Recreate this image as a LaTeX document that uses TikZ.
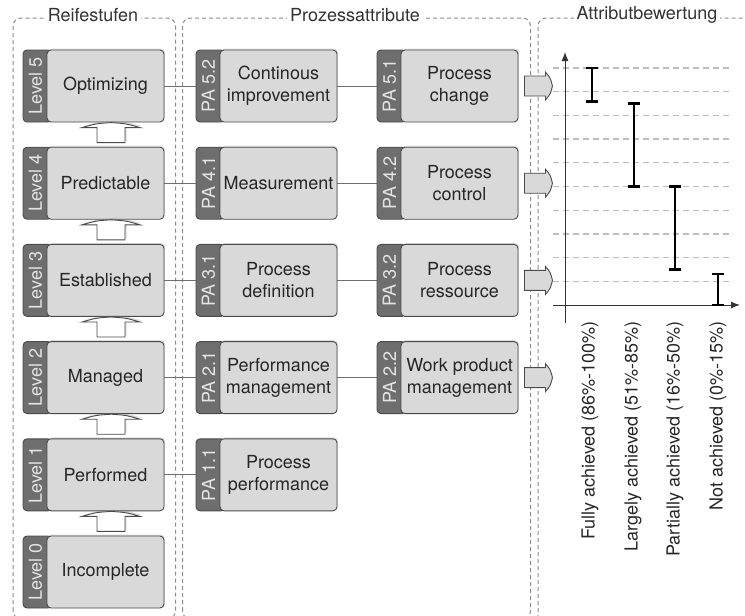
\documentclass[tikz,border=0pt]{standalone}
\usepackage{fontspec}
\setmainfont{TeX Gyre Heros}
\usepackage{graphicx}
\usepackage{tikz}
\usetikzlibrary{shapes, arrows.meta, shadows, calc, positioning}

\definecolor{hell}{HTML}{D9D9D9}
\definecolor{dunkel}{HTML}{6E6E6E}
\definecolor{rand}{HTML}{4A4A4A}
\definecolor{tabschrift}{HTML}{E4E4E4}
\definecolor{rahmengrau}{HTML}{8C8C8C}
\definecolor{rastergrau}{HTML}{BDBDBD}

\tikzstyle{stufe} = [rectangle, rounded corners = 4, minimum width = 117,
  minimum height = 72, draw = rand, fill = hell, text = black!85,
  text centered, align = center, line width = 0.9,
  drop shadow = {opacity = 0.25, shadow xshift = 1, shadow yshift = -1.5}]
\tikzstyle{tab} = [
  rectangle, rounded corners = 4,
  minimum width = 29, minimum height = 72, inner sep = 0,
  draw = rand, fill = dunkel, text = tabschrift, line width = 0.9
]
\tikzstyle{linie} = [draw = rand!80, line width = 0.9]
\tikzstyle{rahmen} = [draw = rahmengrau, line width = 1, rounded corners = 8,
  dash pattern = on 4 off 3]
\tikzstyle{titel} = [fill = white, inner sep = 3, text = black!80]
\tikzstyle{hochpfeil} = [draw = rand, fill = white, line width = 0.9,
  drop shadow = {opacity = 0.3, shadow xshift = 1.5, shadow yshift = -1.5}]
\tikzstyle{rechtspfeil} = [draw = rand, fill = hell, line width = 0.9]
\tikzstyle{raster} = [draw = rastergrau, line width = 1.3, dash pattern = on 6 off 4]
\tikzstyle{achse} = [draw = black!80, line width = 1,
  -{Latex[length = 9, width = 7]}]
\tikzstyle{balken} = [draw = black, line width = 2.6]
\tikzstyle{wert} = [rotate = 90, anchor = east, inner sep = 0, text = black!85]

\newcommand{\tabtext}[1]{\rotatebox{90}{#1}\hspace*{4pt}}
% block arrow between two levels
\newcommand{\hoch}[2]{
  \begin{scope}[shift = {($($(#1.north)!0.5!(#2.south)$) + (5.5, 0)$)}]
    \draw [hochpfeil] (-14, 8) -- (-14, -7) -- (-29, -7)
      .. controls (-15, -11) .. (0, -12)
      .. controls (15, -11) .. (29, -7) -- (14, -7) -- (14, 8) -- cycle;
  \end{scope}
}
% block arrow into the rating
\newcommand{\raus}[1]{
  \begin{scope}[shift = {(#1.east)}]
    \draw [rechtspfeil] (6, -10) -- (27, -10) -- (27, -14)
      .. controls (32, -8) .. (34, 0)
      .. controls (32, 8) .. (27, 14) -- (27, 10) -- (6, 10) -- cycle;
  \end{scope}
}
\newcommand{\balkenpaar}[3]{
  \draw [balken] (#1 - 6, #2) -- (#1 + 6, #2) (#1, #2) -- (#1, #3)
    (#1 - 6, #3) -- (#1 + 6, #3);
}

\begin{document}
\begin{tikzpicture}[x = 1pt, y = -1pt, node distance = 0,
    font = \fontsize{18}{22}\selectfont]
  \useasboundingbox (0, 0) rectangle (745, 616);

  % frames
  \draw [rahmen] (13, 619) -- (13, 18) -- (175.5, 18) -- (175.5, 619) -- cycle;
  \draw [rahmen] (182.5, 619) -- (182.5, 18) -- (530.5, 18) -- (530.5, 619) -- cycle;
  \draw [rahmen] (538, 619) -- (538, 18) -- (760, 18);
  \node [titel] (t-reife) at (93, 15) {Reifestufen};
  \node [titel] (t-pa) at (355, 15) {Prozessattribute};
  \node [titel] (t-bew) at (647, 15) {Attributbewertung};

  % level 5
  \node [tab] (lv5-tab) at (37.5, 86) {\tabtext{Level 5}};
  \node [stufe, right of = lv5-tab, xshift = 68] (lv5) {Optimizing};
  \node [tab, right of = lv5, xshift = 105] (pa52-tab) {\tabtext{PA 5.2}};
  \node [stufe, right of = pa52-tab, xshift = 68] (pa52) {Continous\\improvement};
  \node [tab, right of = pa52, xshift = 113] (pa51-tab) {\tabtext{PA 5.1}};
  \node [stufe, right of = pa51-tab, xshift = 68] (pa51) {Process\\change};
  % level 4
  \node [tab, below of = lv5-tab, yshift = -97.2] (lv4-tab) {\tabtext{Level 4}};
  \node [stufe, right of = lv4-tab, xshift = 68] (lv4) {Predictable};
  \node [tab, right of = lv4, xshift = 105] (pa41-tab) {\tabtext{PA 4.1}};
  \node [stufe, right of = pa41-tab, xshift = 68] (pa41) {Measurement};
  \node [tab, right of = pa41, xshift = 113] (pa42-tab) {\tabtext{PA 4.2}};
  \node [stufe, right of = pa42-tab, xshift = 68] (pa42) {Process\\control};
  % level 3
  \node [tab, below of = lv4-tab, yshift = -97.2] (lv3-tab) {\tabtext{Level 3}};
  \node [stufe, right of = lv3-tab, xshift = 68] (lv3) {Established};
  \node [tab, right of = lv3, xshift = 105] (pa31-tab) {\tabtext{PA 3.1}};
  \node [stufe, right of = pa31-tab, xshift = 68] (pa31) {Process\\definition};
  \node [tab, right of = pa31, xshift = 113] (pa32-tab) {\tabtext{PA 3.2}};
  \node [stufe, right of = pa32-tab, xshift = 68] (pa32) {Process\\ressource};
  % level 2
  \node [tab, below of = lv3-tab, yshift = -97.2] (lv2-tab) {\tabtext{Level 2}};
  \node [stufe, right of = lv2-tab, xshift = 68] (lv2) {Managed};
  \node [tab, right of = lv2, xshift = 105] (pa21-tab) {\tabtext{PA 2.1}};
  \node [stufe, right of = pa21-tab, xshift = 68] (pa21) {Performance\\management};
  \node [tab, right of = pa21, xshift = 113] (pa22-tab) {\tabtext{PA 2.2}};
  \node [stufe, right of = pa22-tab, xshift = 68] (pa22) {Work product\\management};
  % level 1
  \node [tab, below of = lv2-tab, yshift = -97.2] (lv1-tab) {\tabtext{Level 1}};
  \node [stufe, right of = lv1-tab, xshift = 68] (lv1) {Performed};
  \node [tab, right of = lv1, xshift = 105] (pa11-tab) {\tabtext{PA 1.1}};
  \node [stufe, right of = pa11-tab, xshift = 68] (pa11) {Process\\performance};
  % level 0
  \node [tab, below of = lv1-tab, yshift = -97.2] (lv0-tab) {\tabtext{Level 0}};
  \node [stufe, right of = lv0-tab, xshift = 68] (lv0) {Incomplete};

  \draw [linie] (lv5) -- (pa52-tab);
  \draw [linie] (pa52) -- (pa51-tab);
  \draw [linie] (lv4) -- (pa41-tab);
  \draw [linie] (pa41) -- (pa42-tab);
  \draw [linie] (lv3) -- (pa31-tab);
  \draw [linie] (pa31) -- (pa32-tab);
  \draw [linie] (lv2) -- (pa21-tab);
  \draw [linie] (pa21) -- (pa22-tab);
  \draw [linie] (lv1) -- (pa11-tab);

  \hoch{lv4}{lv5}
  \hoch{lv3}{lv4}
  \hoch{lv2}{lv3}
  \hoch{lv1}{lv2}
  \hoch{lv0}{lv1}

  \raus{pa51}
  \raus{pa42}
  \raus{pa32}
  \raus{pa22}

  % rating
  \foreach \k in {1, ..., 10}
    \draw [raster] (553, {305 - 23.7 * \k}) -- (733, {305 - 23.7 * \k});
  \draw [achse] (565, 323) -- (565, 52);
  \draw [achse] (553, 305) -- (740, 305);
  \balkenpaar{592}{68}{101.2}
  \balkenpaar{634}{103.6}{186.5}
  \balkenpaar{675}{186.5}{269.5}
  \balkenpaar{718}{274}{305}
  \node [wert] (w-fully) at (590, 321) {Fully achieved (86\%-100\%)};
  \node [wert] (w-largely) at (633, 321) {Largely achieved (51\%-85\%)};
  \node [wert] (w-partially) at (675, 321) {Partially achieved (16\%-50\%)};
  \node [wert] (w-not) at (718, 321) {Not achieved (0\%-15\%)};
\end{tikzpicture}
\end{document}
